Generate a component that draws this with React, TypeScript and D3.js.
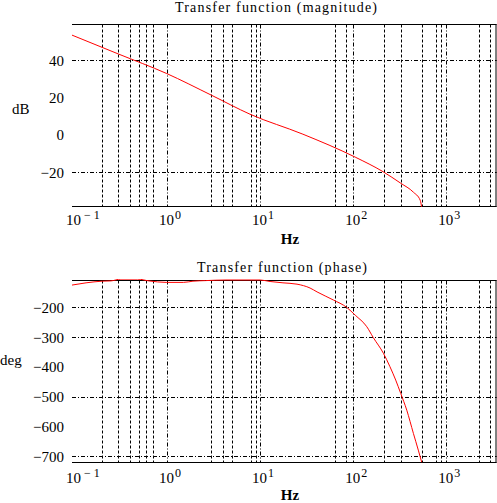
import React from 'react';
import * as d3 from 'd3';

// magnitude trace (Hz, dB)
const magFreq = [0.0954, 0.3, 0.983, 3.0, 7.79, 28.8, 105, 209, 324, 443, 524, 548];
const magDb = [53.5, 43.4, 33.0, 21.3, 11.1, 0.4, -11.9, -19.7, -25.9, -30.7, -35.0, -40.0];

// phase trace (Hz, deg)
const phaseFreq = [0.0954, 0.135, 0.2, 0.25, 0.32, 0.48, 0.64, 0.98, 1.5, 1.9, 2.6, 4.3, 10, 12.8, 17.6, 24.9, 34.4, 40.9, 61.1, 85.2, 105, 140, 164, 211, 248, 286, 324, 376, 443, 500, 544];
const phaseDeg = [-125, -117.5, -112, -111, -105, -105, -111, -116, -116, -112, -110, -108, -108, -113, -117.5, -122, -135, -148, -175, -200, -226, -265, -301, -354, -399, -444, -489, -545, -623, -679, -720];

const xMajor = [1, 10, 100, 1000];
const xMinor = [0.2, 0.3, 0.4, 0.5, 0.6, 0.7, 3, 4, 5, 8, 9, 63, 84, 213, 324, 544, 780, 870, 2230, 2950];
const xTickExp = [-1, 0, 1, 2, 3];

const magTicks = [40, 20, 0, -20];
const magGrid = [40, -20];
const phaseTicks = [-200, -300, -400, -500, -600, -700];
const phaseGrid = [-200, -300, -500, -700];

const W = 497;
const H = 503;
const left = 72;
const right = 496.7;
const serif = '"Liberation Serif", "Times New Roman", serif';

const x = d3.scaleLog().domain([0.0954, 3476]).range([left, right]);
const px = (v: number) => Math.round(v) + 0.5;

type PanelProps = {
  id: string;
  top: number;
  bottom: number;
  yDomain: [number, number];
  title: string;
  titleX: number;
  titleLen: number;
  titleY: number;
  yLabel: string;
  yLabelX: number;
  yLabelY: number;
  ticks: number[];
  grid: number[];
  freq: number[];
  vals: number[];
  xLabelY: number;
  hzY: number;
};

function Panel(p: PanelProps) {
  const y = d3.scaleLinear().domain(p.yDomain).range([p.bottom, p.top]);
  const line = d3
    .line<number>()
    .x((_, i) => x(p.freq[i]))
    .y((d) => y(d))
    .curve(d3.curveMonotoneX);
  const t = px(p.top);
  const b = px(p.bottom);
  return (
    <g>
      <defs>
        <clipPath id={p.id}>
          <rect x={left} y={p.top - 1} width={right - left + 1} height={p.bottom - p.top + 2} />
        </clipPath>
      </defs>
      <text x={p.titleX} y={p.titleY} textAnchor="middle" fontSize={14} fontFamily={serif}
        textLength={p.titleLen} lengthAdjust="spacing">{p.title}</text>

      {xMinor.map((f) => (
        <line key={'mi' + f} x1={px(x(f))} x2={px(x(f))} y1={t} y2={b}
          stroke="#000" strokeDasharray="3,2" />
      ))}
      {xMajor.map((f) => (
        <line key={'ma' + f} x1={px(x(f))} x2={px(x(f))} y1={t} y2={b}
          stroke="#000" strokeDasharray="4,2,1,2" />
      ))}
      {p.grid.map((v) => (
        <line key={'g' + v} x1={left} x2={right} y1={px(y(v))} y2={px(y(v))}
          stroke="#000" strokeDasharray="4,2,1,2" />
      ))}

      <line x1={left} x2={right} y1={t} y2={t} stroke="#000" />
      <line x1={left} x2={right} y1={b} y2={b} stroke="#000" />
      <line x1={496} x2={496} y1={t} y2={b} stroke="#000" />

      <path d={line(p.vals) || ''} fill="none" stroke="#ff0000" strokeWidth={1}
        clipPath={`url(#${p.id})`} />

      {p.ticks.map((v) => (
        <text key={'t' + v} x={64} y={y(v) + 5.5} textAnchor="end" fontSize={15} fontFamily={serif}>
          {v < 0 ? '\u2212' + Math.abs(v) : String(v)}
        </text>
      ))}
      {xTickExp.map((e) => (
        <text key={'x' + e} x={x(Math.pow(10, e)) - 8} y={p.xLabelY} fontSize={15} fontFamily={serif}>
          10
          <tspan dx={e < 0 ? 3 : 1} dy={-6} fontSize={12}>{e < 0 ? '\u2212 ' + Math.abs(e) : String(e)}</tspan>
        </text>
      ))}

      <text x={p.yLabelX} y={p.yLabelY} fontSize={15} fontFamily={serif}>{p.yLabel}</text>
      <text x={290} y={p.hzY} textAnchor="middle" fontSize={15} fontWeight="bold" fontFamily={serif}>Hz</text>
    </g>
  );
}

export default function App() {
  return (
    <svg width={W} height={H} style={{ position: 'absolute', left: 0, top: 0, background: '#fff' }}>
      <rect width={W} height={H} fill="#fff" />
      <Panel id="clipMag" top={24.3} bottom={206} yDomain={[-38.1, 59.3]}
        title="Transfer function (magnitude)" titleX={276} titleLen={202} titleY={11.5}
        yLabel="dB" yLabelX={12} yLabelY={113.5}
        ticks={magTicks} grid={magGrid} freq={magFreq} vals={magDb}
        xLabelY={225} hzY={244} />
      <Panel id="clipPhase" top={280} bottom={461.7} yDomain={[-718, -108]}
        title="Transfer function (phase)" titleX={282} titleLen={170} titleY={272}
        yLabel="deg" yLabelX={0} yLabelY={365}
        ticks={phaseTicks} grid={phaseGrid} freq={phaseFreq} vals={phaseDeg}
        xLabelY={483} hzY={500} />
    </svg>
  );
}
